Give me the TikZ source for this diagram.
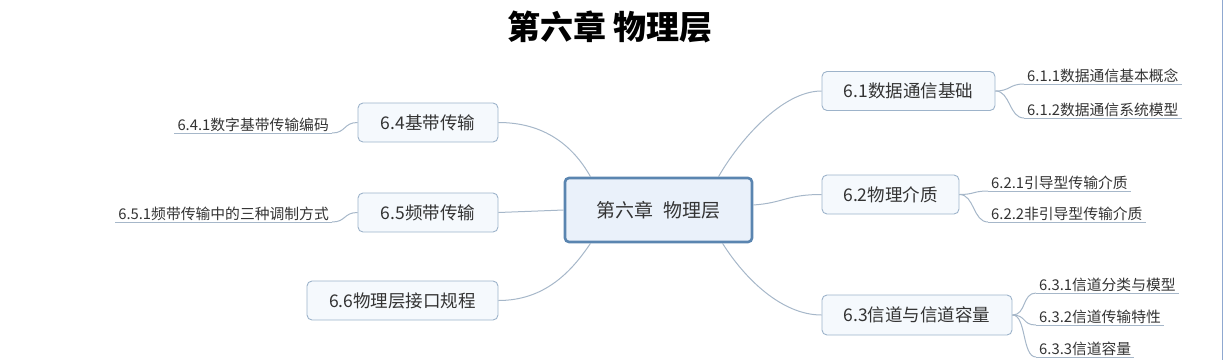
\documentclass[tikz,border=0pt]{standalone}
\usepackage{fontspec}
\setmainfont{Noto Sans CJK SC}
\usetikzlibrary{calc}
\definecolor{txt}{HTML}{333333}
\definecolor{cborder}{HTML}{5A85B0}
\definecolor{cfill}{HTML}{EAF1FA}
\definecolor{sborder}{HTML}{9DB3CA}
\definecolor{sfill}{HTML}{F5F9FD}
\definecolor{conn}{HTML}{A6B7C9}
\definecolor{edge}{HTML}{8FA8D0}
\tikzset{
  central/.style={draw=cborder, line width=2.6pt, fill=cfill, rounded corners=4pt,
    minimum width=187pt, minimum height=64pt, inner sep=0pt, text=txt,
    font=\fontsize{19}{21}\selectfont},
  sub/.style={draw=sborder, line width=0.9pt, fill=sfill, rounded corners=5pt,
    minimum height=39pt, inner sep=0pt, text=txt,
    font=\fontsize{17.5}{20}\selectfont},
  leaf/.style={inner xsep=3pt, inner ysep=1.5pt, text=txt,
    font=\fontsize{14.8}{17}\selectfont},
  link/.style={draw=conn, line width=1pt},
  uline/.style={draw=conn, line width=1pt}
}
\begin{document}
\begin{tikzpicture}[x=1pt,y=-1pt]
\useasboundingbox (0,0) rectangle (1224,360);
\draw[edge, line width=1pt] (1222.5,0) -- (1222.5,360);
\node[font=\fontsize{33}{36}\selectfont\bfseries, text=black] (title) at (610,27) {第六章 物理层};

\node[central] (c) at (658.5,210) {第六章\hspace{0.55em}物理层};

\node[sub, minimum width=173pt] (s1) at (908.5,91) {6.1数据通信基础};
\node[sub, minimum width=137pt] (s2) at (890.5,194.5) {6.2物理介质};
\node[sub, minimum width=190pt, minimum height=40pt] (s3) at (917,315) {6.3信道与信道容量};
\node[sub, minimum width=140pt] (s4) at (428,122.5) {6.4基带传输};
\node[sub, minimum width=140pt] (s5) at (428,212.5) {6.5频带传输};
\node[sub, minimum width=191pt] (s6) at (402.5,300.5) {6.6物理层接口规程};

% leaves
\node[leaf, anchor=south west] (l11) at (1024,84) {6.1.1数据通信基本概念};
\node[leaf, anchor=south west] (l12) at (1024,118) {6.1.2数据通信系统模型};
\node[leaf, anchor=south west] (l21) at (988,191) {6.2.1引导型传输介质};
\node[leaf, anchor=south west] (l22) at (988,222) {6.2.2非引导型传输介质};
\node[leaf, anchor=south west] (l31) at (1036,293) {6.3.1信道分类与模型};
\node[leaf, anchor=south west] (l32) at (1036,325) {6.3.2信道传输特性};
\node[leaf, anchor=south west] (l33) at (1036,357) {6.3.3信道容量};
\node[leaf, anchor=south east] (l41) at (332,133) {6.4.1数字基带传输编码};
\node[leaf, anchor=south east] (l51) at (332,222) {6.5.1频带传输中的三种调制方式};

\foreach \n in {l11,l12,l21,l22,l31,l32,l33,l41,l51}
  \draw[uline] (\n.south west) -- (\n.south east);

% central connectors
\draw[link] ([xshift=60pt]c.north) .. controls +(20,-35) and +(-40,0) .. (s1.west);
\draw[link] ([yshift=5pt]c.east) .. controls +(30,-2) and +(-35,0) .. (s2.west);
\draw[link] ([xshift=64pt]c.south) .. controls +(22,35) and +(-40,0) .. (s3.west);
\draw[link] ([xshift=-68pt]c.north) .. controls +(-18,-32) and +(45,0) .. (s4.east);
\draw[link] (c.west) -- (s5.east);
\draw[link] ([xshift=-68pt]c.south) .. controls +(-20,30) and +(45,0) .. (s6.east);

% leaf connectors
\draw[link] (s1.east) .. controls +(15,0) and +(-15,0) .. (l11.south west);
\draw[link] (s1.east) .. controls +(15,0) and +(-15,0) .. (l12.south west);
\draw[link] (s2.east) .. controls +(15,0) and +(-15,0) .. (l21.south west);
\draw[link] (s2.east) .. controls +(15,0) and +(-15,0) .. (l22.south west);
\draw[link] (s3.east) .. controls +(14,0) and +(-14,0) .. (l31.south west);
\draw[link] (s3.east) .. controls +(14,0) and +(-14,0) .. (l32.south west);
\draw[link] (s3.east) .. controls +(14,0) and +(-14,0) .. (l33.south west);
\draw[link] (s4.west) .. controls +(-14,0) and +(14,0) .. (l41.south east);
\draw[link] (s5.west) .. controls +(-14,0) and +(14,0) .. (l51.south east);
\end{tikzpicture}
\end{document}
